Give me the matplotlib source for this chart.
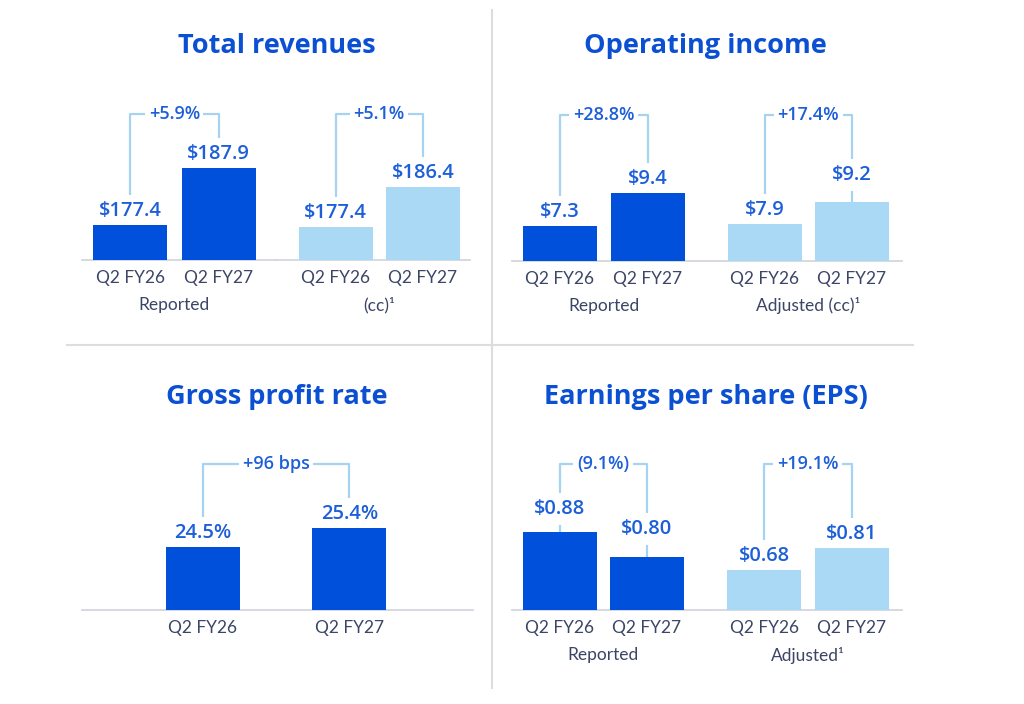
import matplotlib
matplotlib.use("Agg")
import matplotlib.pyplot as plt

plt.rcParams["font.family"] = ["Lato", "DejaVu Sans"]
HEAD_FONT = ["Open Sans", "DejaVu Sans"]

# Data
periods = ["Q2 FY26", "Q2 FY27"]
rev_reported = [177.4, 187.9]
rev_cc = [177.4, 186.4]
opinc_reported = [7.3, 9.4]
opinc_adj_cc = [7.9, 9.2]
gross_rate = [24.5, 25.4]
eps_reported = [0.88, 0.80]
eps_adjusted = [0.68, 0.81]

rev_changes = ["+5.9%", "+5.1%"]
opinc_changes = ["+28.8%", "+17.4%"]
gross_change = "+96 bps"
eps_changes = ["(9.1%)", "+19.1%"]

DARK = "#0050dc"
LIGHT = "#aad9f5"
VALUE_C = "#1d5fd9"
TITLE_C = "#0b4fd3"
TICK_C = "#3b4565"
BRACKET_C = "#a6d3f1"
BASE_C = "#d3d7df"
DIV_C = "#dddddd"

W, H = 1024, 704
fig = plt.figure(figsize=(W / 100, H / 100), dpi=100)

AX_H = 170  # axes height in px
BRACKET_FRAC = 146 / AX_H


def add_group(x0, x1, base, c1, c2, values, ylim, color, fmt, change,
              group_label=None, pads=(4, 4), bar_w=74):
    span = c2 - c1
    ax = fig.add_axes([x0 / W, (H - base) / H, (x1 - x0) / W, AX_H / H])
    ax.set_xlim((x0 - c1) / span, (x1 - c1) / span)
    ax.set_ylim(*ylim)
    # bars sit above the label boxes so the white pad never bites into them
    ax.bar([0, 1], values, width=bar_w / span, color=color, zorder=5)
    for s in ["top", "right", "left"]:
        ax.spines[s].set_visible(False)
    ax.spines["bottom"].set_color(BASE_C)
    ax.spines["bottom"].set_linewidth(1.3)
    ax.set_yticks([])
    ax.set_xticks([0, 1])
    ax.set_xticklabels(periods, fontsize=12.5, color=TICK_C)
    ax.tick_params(axis="x", length=0, pad=7)
    ax.patch.set_alpha(0)

    yb = ylim[0] + BRACKET_FRAC * (ylim[1] - ylim[0])
    ax.plot([0, 0, 1, 1], [values[0], yb, yb, values[1]], color=BRACKET_C,
            lw=1.6, zorder=1, clip_on=False)
    ax.text(0.5, yb, change, ha="center", va="center", fontsize=13,
            fontweight="semibold", color=VALUE_C, zorder=4, family=HEAD_FONT,
            bbox=dict(boxstyle="square,pad=0.2", fc="white", ec="none"))
    for i, v in enumerate(values):
        ax.annotate(fmt(v), (i, v), xytext=(0, pads[i]), textcoords="offset pixels",
                    ha="center", va="bottom", fontsize=14.5, fontweight="semibold",
                    color=VALUE_C, zorder=4, family=HEAD_FONT,
                    bbox=dict(boxstyle="square,pad=0.3", fc="white", ec="none"))
    if group_label:
        ax.annotate(group_label, (0.5, ylim[0]), xytext=(0, -45), textcoords="offset pixels",
                    ha="center", va="center", fontsize=12.5, color=TICK_C,
                    annotation_clip=False)
    return ax


dollar1 = lambda v: f"${v:.1f}"
dollar2 = lambda v: f"${v:.2f}"
pct1 = lambda v: f"{v:.1f}%"

# Total revenues
add_group(82, 276, 260, 130, 218.5, rev_reported, (171, 202.3), DARK, dollar1,
          rev_changes[0], "Reported")
add_group(276, 470, 260, 335.5, 423, rev_cc, (170, 208.3), LIGHT, dollar1,
          rev_changes[1], "(cc)¹")

# Operating income
add_group(512, 706, 261, 559.5, 648, opinc_reported, (5.07, 15.9), DARK, dollar1,
          opinc_changes[0], "Reported")
add_group(706, 902, 261, 764.5, 852, opinc_adj_cc, (5.71, 15.77), LIGHT, dollar1,
          opinc_changes[1], "Adjusted (cc)¹", pads=(4, 17))

# Gross profit rate
add_group(82, 473, 610, 203, 349.5, gross_rate, (21.5, 29.56), DARK, pct1,
          gross_change)

# EPS
add_group(512, 706, 610, 559.5, 646.5, eps_reported, (0.63, 1.174), DARK, dollar2,
          eps_changes[0], "Reported", pads=(13, 18))
add_group(706, 902, 610, 764, 851.5, eps_adjusted, (0.443, 1.449), LIGHT, dollar2,
          eps_changes[1], "Adjusted¹")

# Titles
for x, y, t in [(277, 46, "Total revenues"), (705, 46, "Operating income"),
                (277, 397, "Gross profit rate"), (706, 397, "Earnings per share (EPS)")]:
    fig.text(x / W, 1 - y / H, t, ha="center", va="center", fontsize=19.5,
             fontweight="bold", color=TITLE_C, family=HEAD_FONT)

# Dividers
fig.add_artist(plt.Line2D([492 / W, 492 / W], [1 - 10 / H, 1 - 688 / H],
                          color=DIV_C, lw=1.5))
fig.add_artist(plt.Line2D([67 / W, 913 / W], [1 - 345 / H, 1 - 345 / H],
                          color=DIV_C, lw=1.5))

fig.savefig("out.png", dpi=100, facecolor="white")
